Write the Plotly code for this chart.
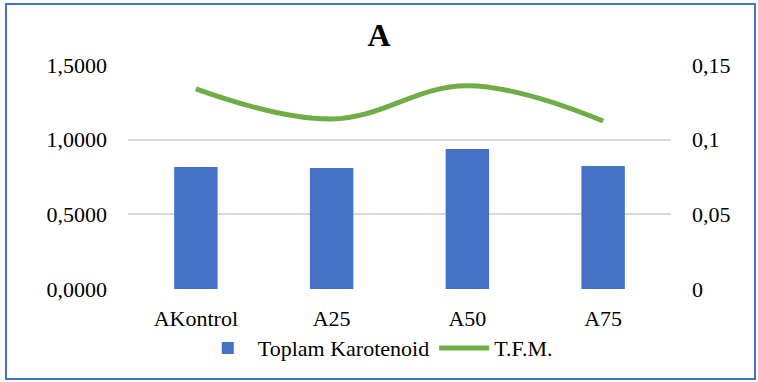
import plotly.graph_objects as go

categories = ["AKontrol", "A25", "A50", "A75"]
karotenoid = [0.817, 0.810, 0.937, 0.823]
tfm = [0.134, 0.1138, 0.1361, 0.1125]
left_ticks = [0, 0.5, 1.0, 1.5]
right_ticks = [0, 0.05, 0.1, 0.15]
right_ticktext = ["0", "0,05", "0,1", "0,15"]

FONT = "Liberation Serif"

fig = go.Figure()
fig.add_trace(go.Bar(
    x=categories, y=karotenoid, name="Toplam Karotenoid",
    marker=dict(color="#4672c6", line=dict(width=0)),
    width=0.32, yaxis="y",
))
fig.add_trace(go.Scatter(
    x=categories, y=tfm, name="T.F.M.", mode="lines",
    line=dict(color="#70ad47", width=5, shape="spline", smoothing=1.1),
    yaxis="y2",
))

fig.update_layout(
    width=758, height=382,
    margin=dict(l=128, r=87, t=65, b=93),
    paper_bgcolor="white", plot_bgcolor="white",
    font=dict(family=FONT, size=22, color="#000000"),
    separators=",.",
    title=dict(text="<b>A</b>", x=0.5, xanchor="center", y=0.91, yanchor="middle",
               font=dict(family=FONT, size=32, color="#000000")),
    showlegend=True,
    legend=dict(orientation="h", x=0.46, xanchor="center", y=-0.17, yanchor="top",
                font=dict(family=FONT, size=22, color="#000000"), itemwidth=50,
                tracegroupgap=0, bgcolor="rgba(0,0,0,0)"),
    xaxis=dict(showgrid=False, showline=False, ticks="", ticklabelstandoff=14,
               tickfont=dict(family=FONT, size=22, color="#000000")),
    yaxis=dict(range=[0, 1.5], tickvals=left_ticks, tickformat=".4f",
               showgrid=True, gridcolor="#d9d9d9", gridwidth=1.5,
               zeroline=False, showline=False, ticks="", ticklabelstandoff=20,
               tickfont=dict(family=FONT, size=22, color="#000000")),
    yaxis2=dict(range=[0, 0.15], overlaying="y", side="right",
                tickvals=right_ticks, ticktext=right_ticktext,
                showgrid=False, zeroline=False, showline=False, ticks="",
                ticklabelstandoff=20,
                tickfont=dict(family=FONT, size=22, color="#000000")),
    shapes=[dict(type="rect", xref="paper", yref="paper",
                 x0=-0.2247, x1=1.1547, y0=-0.402, y1=1.272,
                 line=dict(color="#4472c4", width=2), fillcolor="rgba(0,0,0,0)",
                 layer="below")],
)

fig.write_html("out.html")
